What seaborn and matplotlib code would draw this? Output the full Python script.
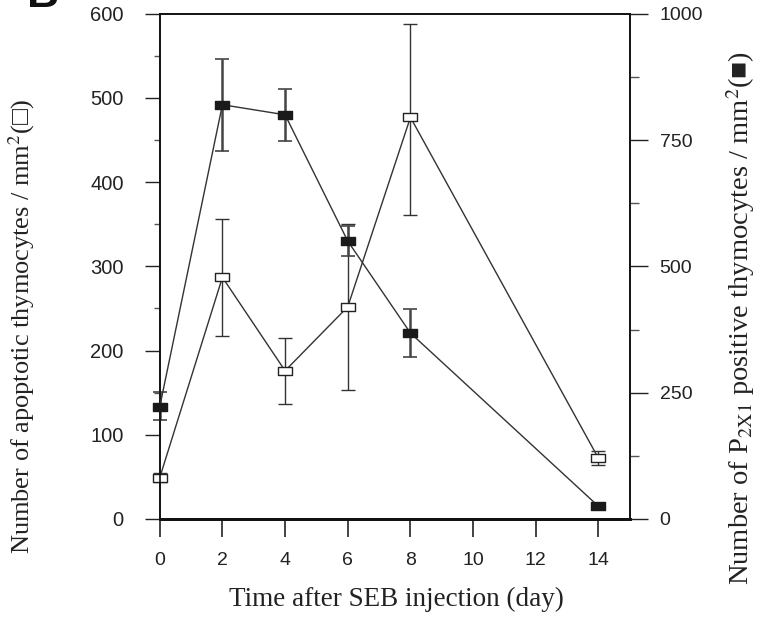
import matplotlib
matplotlib.use('Agg')
import matplotlib.pyplot as plt
import seaborn as sns
import pandas as pd
from matplotlib.path import Path

days = [0, 2, 4, 6, 8, 14]

# apoptotic thymocytes / mm^2 (open squares, left axis)
apoptotic = [49, 287, 176, 252, 477, 72]
apoptotic_hi = [54, 356, 215, 350, 588, 81]
apoptotic_lo = [44, 217, 137, 153, 361, 64]

# P2X1 positive thymocytes / mm^2 (filled squares, right axis)
p2x1 = [222, 820, 800, 550, 368, 25]
p2x1_hi = [252, 911, 851, 580, 416, 25]
p2x1_lo = [196, 728, 748, 521, 321, 25]

df = pd.DataFrame({'day': days, 'apoptotic': apoptotic, 'p2x1': p2x1})

sns.set_style('ticks')
plt.rcParams['font.family'] = ['Liberation Sans', 'DejaVu Sans']
plt.rcParams['mathtext.fontset'] = 'stix'
serif = ['Liberation Serif', 'DejaVu Serif']

rect = Path([(-1, -0.6), (1, -0.6), (1, 0.6), (-1, 0.6), (-1, -0.6)], closed=True)

fig = plt.figure(figsize=(7.57, 6.26), dpi=100)
ax = fig.add_axes([0.211, 0.171, 0.621, 0.807])
ax2 = ax.twinx()

# open squares
ax.errorbar(days, apoptotic,
            yerr=[[a - l for a, l in zip(apoptotic, apoptotic_lo)],
                  [h - a for a, h in zip(apoptotic, apoptotic_hi)]],
            fmt='none', ecolor='#333333', elinewidth=1, capsize=5, capthick=1, zorder=2, clip_on=False)
sns.lineplot(data=df, x='day', y='apoptotic', ax=ax, color='#333333', lw=1,
             marker=rect, markersize=10, markerfacecolor='white',
             markeredgecolor='#222222', markeredgewidth=1, zorder=3, clip_on=False)

# filled squares
ax2.errorbar(days, p2x1,
             yerr=[[p - l for p, l in zip(p2x1, p2x1_lo)],
                   [h - p for p, h in zip(p2x1, p2x1_hi)]],
             fmt='none', ecolor='#444444', elinewidth=1.8, capsize=5, capthick=1.2, zorder=2, clip_on=False)
sns.lineplot(data=df, x='day', y='p2x1', ax=ax2, color='#333333', lw=1,
             marker=rect, markersize=10, markerfacecolor='#1a1a1a',
             markeredgecolor='#1a1a1a', markeredgewidth=1, zorder=3, clip_on=False)

ax.set_xlim(0, 15)
ax.set_ylim(0, 600)
ax2.set_ylim(0, 1000)

ax.set_xticks([0, 2, 4, 6, 8, 10, 12, 14])
ax.set_yticks(range(0, 601, 100))
ax.set_yticks(range(50, 600, 100), minor=True)
ax2.set_yticks([0, 250, 500, 750, 1000])
ax2.set_yticks([125, 375, 625, 875], minor=True)

ax.tick_params(axis='x', direction='out', length=13, width=1.2, pad=11, labelsize=14, colors='#222222')
ax.tick_params(axis='y', which='major', direction='out', length=11, width=1, pad=15, labelsize=14.5, colors='#222222')
ax.tick_params(axis='y', which='minor', direction='out', length=4.5, width=1, colors='#555555')
ax2.tick_params(axis='y', which='major', direction='out', length=13, width=1, pad=8.5, labelsize=14, colors='#222222')
ax2.tick_params(axis='y', which='minor', direction='out', length=6.5, width=1, colors='#555555')

for a in (ax, ax2):
    for side, sp in a.spines.items():
        sp.set_color('#111111')
        sp.set_linewidth(1.2)
    a.spines['bottom'].set_linewidth(2)

ax.set_xlabel('Time after SEB injection (day)', family=serif, fontsize=19.5, color='#222222', va='center')
ax.set_ylabel('Number of apoptotic thymocytes / mm$^2$(\u25a1)', family=serif, fontsize=19,
              color='#222222', va='center')
ax2.set_ylabel(r'Number of P$_{\mathrm{2X1}}$ positive thymocytes / mm$^2$(' + '\u25a0)', family=serif,
               fontsize=20.5, rotation=90, color='#222222', va='center')
ax.xaxis.set_label_coords(0.504, -0.160)
ax.yaxis.set_label_coords(-0.294, 0.38)
ax2.yaxis.set_label_coords(1.236, 0.398)

fig.text(0.036, 0.989, 'B', fontsize=32, weight='bold', ha='left', va='baseline', color='#111111')

plt.savefig('out.png', dpi=100)
